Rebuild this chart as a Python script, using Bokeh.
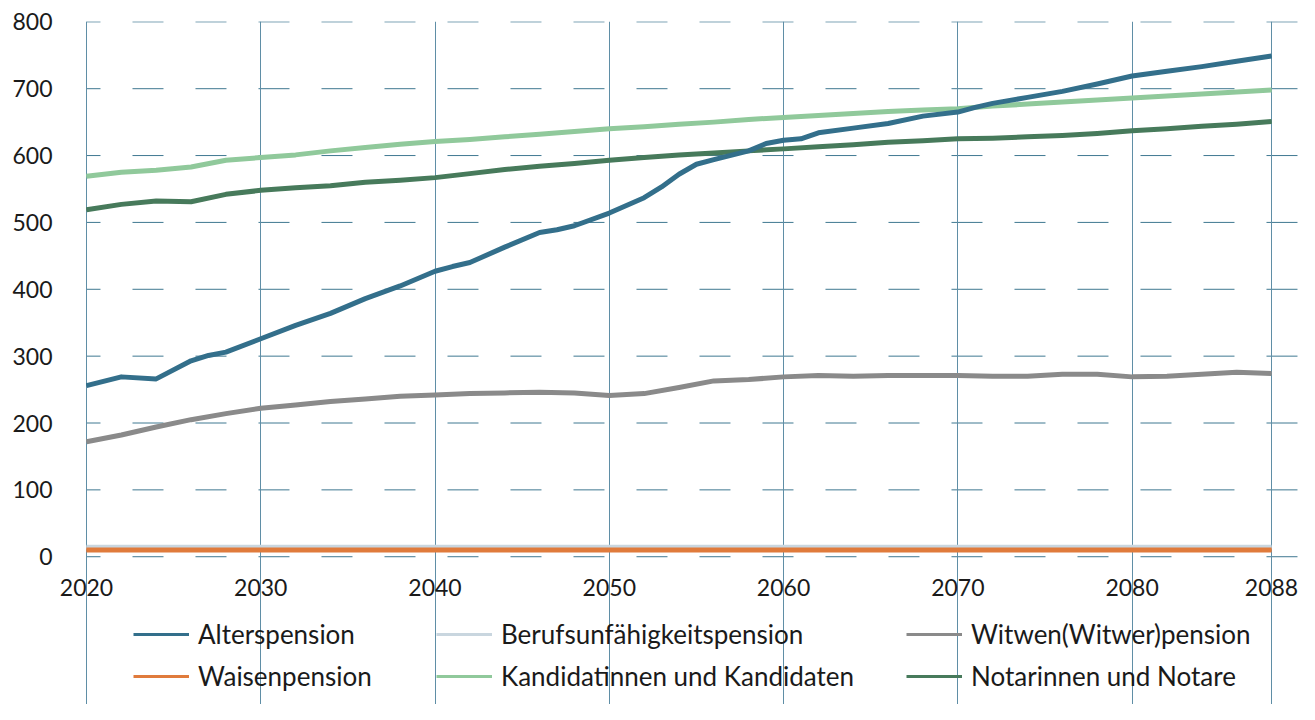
from bokeh.plotting import figure
from bokeh.models import (Range1d, FixedTicker, LinearAxis, Legend, LegendItem,
                          ColumnDataSource, Grid)
from bokeh.embed import file_html
from bokeh.resources import INLINE

# ---------------- data ----------------
years = [2020, 2022, 2024, 2026, 2028, 2030, 2032, 2034, 2036, 2038, 2040, 2042,
         2044, 2046, 2048, 2050, 2052, 2054, 2056, 2058, 2060, 2062, 2064, 2066,
         2068, 2070, 2072, 2074, 2076, 2078, 2080, 2082, 2084, 2086, 2088]

# Alterspension is read at a few extra years where the curve bends
alters_years = [2020, 2022, 2024, 2026, 2027, 2028, 2030, 2032, 2034, 2036, 2038,
                2040, 2041, 2042, 2044, 2046, 2047, 2048, 2050, 2052, 2053, 2054,
                2055, 2056, 2058, 2059, 2060, 2061, 2062, 2064, 2066, 2068, 2070,
                2071, 2072, 2074, 2076, 2078, 2080, 2082, 2084, 2086, 2088]
alterspension = [256, 269, 266, 293, 301, 306, 326, 346, 364, 386, 405,
                 427, 434, 440, 463, 485, 489, 495, 514, 537, 553, 572,
                 587, 594, 607, 618, 623, 625, 634, 641, 648, 659, 665,
                 672, 678, 687, 696, 707, 719, 726, 733, 741, 749]

berufsunfaehigkeit = [14, 14, 14, 14, 14, 14, 14, 14, 14, 14, 14, 14,
                      14, 14, 14, 14, 14, 14, 14, 14, 14, 14, 14, 14,
                      14, 14, 14, 14, 14, 14, 14, 14, 14, 14, 14]

witwen = [172, 182, 194, 205, 214, 222, 227, 232, 236, 240, 242, 244,
          245, 246, 245, 241, 244, 253, 263, 265, 269, 271, 270, 271,
          271, 271, 270, 270, 273, 273, 269, 270, 273, 276, 274]

waisen = [10, 10, 10, 10, 10, 10, 10, 10, 10, 10, 10, 10,
          10, 10, 10, 10, 10, 10, 10, 10, 10, 10, 10, 10,
          10, 10, 10, 10, 10, 10, 10, 10, 10, 10, 10]

kandidaten = [569, 575, 578, 583, 593, 597, 601, 607, 612, 617, 621, 624,
              628, 632, 636, 640, 643, 647, 650, 654, 657, 660, 663, 666,
              668, 670, 674, 677, 680, 683, 686, 689, 692, 695, 698]

notare = [519, 527, 532, 531, 542, 548, 552, 555, 560, 563, 567, 573,
          579, 584, 588, 593, 597, 601, 604, 607, 610, 613, 616, 620,
          622, 625, 626, 628, 630, 633, 637, 640, 644, 647, 651]

x_ticks = [2020, 2030, 2040, 2050, 2060, 2070, 2080, 2088]
y_ticks = [0, 100, 200, 300, 400, 500, 600, 700, 800]

labels = ["Alterspension", "Berufsunfähigkeitspension", "Witwen(Witwer)pension",
          "Waisenpension", "Kandidatinnen und Kandidaten", "Notarinnen und Notare"]

colors = {
    "Alterspension": "#336f8b",
    "Berufsunfähigkeitspension": "#c9d6df",
    "Witwen(Witwer)pension": "#8a8a8a",
    "Waisenpension": "#e07b3c",
    "Kandidatinnen und Kandidaten": "#90c99b",
    "Notarinnen und Notare": "#477a5b",
}

FONT = "Lato"
TEXT_COLOR = "#1a1a1a"

X_START, X_END = 2018.164, 2089.607
Y_START, Y_END = -221, 800.5

# ---------------- figure ----------------
p = figure(width=1299, height=704,
           x_range=Range1d(X_START, X_END), y_range=Range1d(Y_START, Y_END),
           x_axis_type=None, output_backend="svg", toolbar_location=None,
           min_border_left=54, min_border_right=0, min_border_top=21,
           min_border_bottom=0)
p.outline_line_color = None
p.background_fill_color = "white"
p.border_fill_color = "white"

# y axis
yax = p.yaxis[0]
yax.ticker = FixedTicker(ticks=y_ticks)
yax.axis_line_color = None
yax.major_tick_line_color = None
yax.minor_tick_line_color = None
yax.major_tick_out = 0
yax.major_tick_in = 0
yax.major_label_standoff = 2
yax.major_label_text_font = FONT
yax.major_label_text_font_size = "23px"
yax.major_label_text_color = TEXT_COLOR

# x axis drawn at y = 0 inside the frame
xax = LinearAxis(fixed_location=0, ticker=FixedTicker(ticks=x_ticks))
xax.axis_line_color = None
xax.major_tick_line_color = None
xax.minor_tick_line_color = None
xax.major_tick_out = 0
xax.major_tick_in = 0
xax.major_label_standoff = 22
xax.major_label_text_font = FONT
xax.major_label_text_font_size = "23px"
xax.major_label_text_color = TEXT_COLOR
p.add_layout(xax, "below")

# grids: vertical solid lines at the year ticks
p.ygrid.visible = False
vgrid = Grid(dimension=0, ticker=FixedTicker(ticks=x_ticks),
             grid_line_color="#5f8ea6", grid_line_width=1)
p.add_layout(vgrid)

# horizontal dashed lines, starting at the first year tick
n_y = len(y_ticks)
p.segment(x0=[x_ticks[0]] * n_y, y0=y_ticks, x1=[X_END] * n_y, y1=y_ticks,
          line_color="#3f7891", line_width=1, line_dash="31 32",
          line_dash_offset=17, level="underlay")

# ---------------- lines ----------------
src = ColumnDataSource(dict(year=years, bu=berufsunfaehigkeit,
                            wi=witwen, wa=waisen, ka=kandidaten, no=notare))
src_alt = ColumnDataSource(dict(year=alters_years, alt=alterspension))
field_of = {
    "Alterspension": (src_alt, "alt"),
    "Berufsunfähigkeitspension": (src, "bu"),
    "Witwen(Witwer)pension": (src, "wi"),
    "Waisenpension": (src, "wa"),
    "Kandidatinnen und Kandidaten": (src, "ka"),
    "Notarinnen und Notare": (src, "no"),
}
draw_order = ["Berufsunfähigkeitspension", "Waisenpension", "Witwen(Witwer)pension",
              "Notarinnen und Notare", "Kandidatinnen und Kandidaten", "Alterspension"]
thin = {}
for name in draw_order:
    s, f = field_of[name]
    # thin copy (hidden under the thick line) used for the legend swatch
    thin[name] = p.line("year", f, source=s, color=colors[name], line_width=3)
    p.line("year", f, source=s, color=colors[name], line_width=5,
           line_join="round")

columns = [(["Alterspension", "Waisenpension"], 79),
           (["Berufsunfähigkeitspension", "Kandidatinnen und Kandidaten"], 382),
           (["Witwen(Witwer)pension", "Notarinnen und Notare"], 852)]
for names, xpos in columns:
    leg = Legend(items=[LegendItem(label=n, renderers=[thin[n]]) for n in names],
                 location=(xpos, 12), orientation="vertical",
                 padding=0, margin=0, spacing=10,
                 glyph_width=56, glyph_height=30, label_height=30,
                 label_standoff=9,
                 label_text_font=FONT, label_text_font_size="26px",
                 label_text_color=TEXT_COLOR,
                 background_fill_alpha=0, border_line_alpha=0)
    p.add_layout(leg, "center")

open("out.html", "w").write(file_html(p, INLINE))
